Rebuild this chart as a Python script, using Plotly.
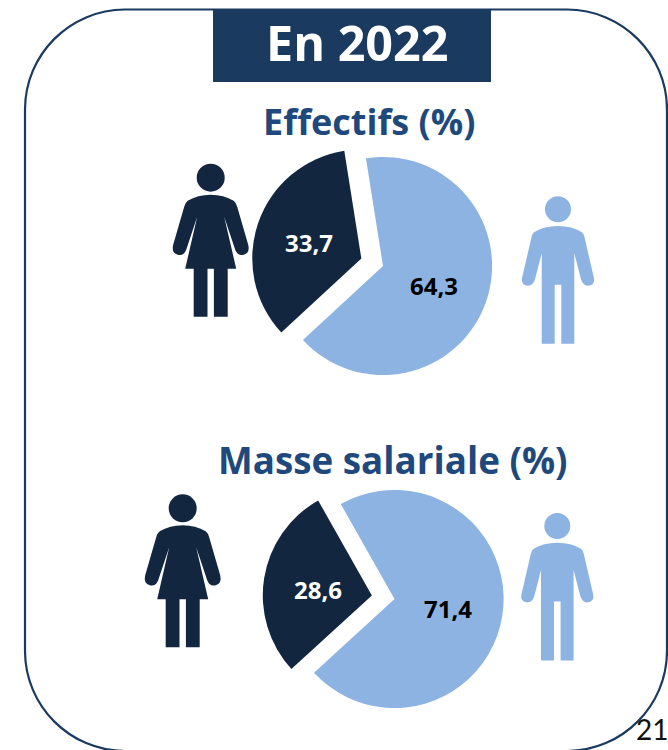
import plotly.graph_objects as go

W, H = 668, 750
categories = ["Hommes", "Femmes"]
effectifs = [64.3, 33.7]
masse_salariale = [71.4, 28.6]
COL_H, COL_F = "#8DB3E2", "#122640"
FONT = "Open Sans"


def px(x):
    return x / W


def py(y):
    return 1 - y / H


def path(cmds):
    out = []
    for c in cmds:
        if isinstance(c, str):
            out.append(c)
        else:
            out.append(f"{px(c[0]):.5f},{py(c[1]):.5f}")
    return " ".join(out)


def poly_mirror(cx, cy, left):
    """Closed path from left-side points (dx, dy) mirrored around cx; 4 numbers mean a Q curve."""
    cmds = []
    for i, seg in enumerate(left):
        if len(seg) == 2:
            cmds += ["M" if i == 0 else "L", (cx + seg[0], cy + seg[1])]
        else:
            cmds += ["Q", (cx + seg[0], cy + seg[1]), (cx + seg[2], cy + seg[3])]
    mirrored = []
    for i in range(1, len(left)):
        seg = left[i]
        start = left[i - 1][-2:]
        if len(seg) == 2:
            mirrored.append(("L", start))
        else:
            mirrored.append(("Q", seg[:2], start))
    end = left[-1][-2:]
    cmds += ["L", (cx - end[0], cy + end[1])]
    for m in reversed(mirrored):
        if m[0] == "L":
            cmds += ["L", (cx - m[1][0], cy + m[1][1])]
        else:
            cmds += ["Q", (cx - m[1][0], cy + m[1][1]), (cx - m[2][0], cy + m[2][1])]
    cmds.append("Z")
    return path(cmds)


def head(cx, cy, r, color):
    return dict(type="circle", xref="paper", yref="paper", x0=px(cx - r), x1=px(cx + r),
                y0=py(cy + r), y1=py(cy - r), fillcolor=color, line_width=0, layer="above")


def woman(cx, cy):
    left = [
        (0, 17), (-13, 17, -23, 23), (-25.5, 25, -26.5, 29), (-37.5, 67),
        (-39.5, 75, -33, 77), (-27, 78.5, -24.5, 72), (-13.5, 39), (-25.5, 91),
        (-17, 91), (-17, 139), (-3.2, 139), (-3.2, 91),
    ]
    skirt = dict(type="path", xref="paper", yref="paper", path=poly_mirror(cx, cy, left),
                 fillcolor=COL_F, line_width=0, layer="above")
    return [head(cx, cy, 14, COL_F), skirt]


def man(cx, cy):
    left = [
        (0, 16.7), (-14, 16.7, -24, 23), (-26, 25, -26.5, 28), (-36, 69),
        (-37, 76, -30, 76.5), (-25, 76.5, -23, 70), (-16.3, 44), (-16.3, 134.5),
        (-3.3, 134.5), (-3.3, 75.5),
    ]
    body = dict(type="path", xref="paper", yref="paper", path=poly_mirror(cx, cy, left),
                fillcolor=COL_H, line_width=0, layer="above")
    return [head(cx, cy, 13, COL_H), body]


def rrect(x0, y0, x1, y1, r):
    k = r * 0.45
    return path([
        "M", (x0 + r, y0), "L", (x1 - r, y0), "C", (x1 - k, y0), (x1, y0 + k), (x1, y0 + r),
        "L", (x1, y1 - r), "C", (x1, y1 - k), (x1 - k, y1), (x1 - r, y1),
        "L", (x0 + r, y1), "C", (x0 + k, y1), (x0, y1 - k), (x0, y1 - r),
        "L", (x0, y0 + r), "C", (x0, y0 + k), (x0 + k, y0), (x0 + r, y0), "Z",
    ])


def dom(cx, cy, half):
    return dict(x=[px(cx - half), px(cx + half)], y=[py(cy + half), py(cy - half)])


def pie(values, cx, cy, rotation):
    return go.Pie(labels=categories, values=values, sort=False, direction="clockwise",
                  rotation=rotation, pull=[0, 0.21], domain=dom(cx, cy, 132),
                  marker=dict(colors=[COL_H, COL_F], line=dict(width=0)),
                  textinfo="none", showlegend=False)


fig = go.Figure([pie(effectifs, 383, 266, -9), pie(masse_salariale, 394.5, 599, -29.5)])

shapes = [
    dict(type="path", xref="paper", yref="paper", path=rrect(25, 9.5, 667, 751, 100),
         line=dict(color="#1B3A60", width=2.2), fillcolor="rgba(0,0,0,0)", layer="below"),
    dict(type="rect", xref="paper", yref="paper", x0=px(213), x1=px(491), y0=py(82), y1=py(9),
         fillcolor="#1A3A5F", line_width=0, layer="above"),
]
shapes += woman(210.7, 177.7) + woman(182.7, 508.3) + man(558, 209.3) + man(557.3, 526)


def label(x, y, text, size, color, family=FONT):
    return dict(xref="paper", yref="paper", x=px(x), y=py(y), text=text, showarrow=False,
                xanchor="center", yanchor="middle",
                font=dict(family=family, size=size, color=color))


def fmt(v):
    return f"{v:.1f}".replace(".", ",")


annotations = [
    label(358, 41.5, "<b>En 2022</b>", 48.5, "#FFFFFF"),
    label(369, 122, "<b>Effectifs (%)</b>", 36, "#1F497D"),
    label(393, 460, "<b>Masse salariale (%)</b>", 36.8, "#1F497D"),
    label(309.3, 242.3, f"<b>{fmt(effectifs[1])}</b>", 24, "#FFFFFF"),
    label(434, 285.7, f"<b>{fmt(effectifs[0])}</b>", 24, "#000000"),
    label(318.3, 589, f"<b>{fmt(masse_salariale[1])}</b>", 24, "#FFFFFF"),
    label(448.3, 608.3, f"<b>{fmt(masse_salariale[0])}</b>", 24, "#000000"),
    label(652, 729, "21", 28, "#111111", "Lato"),
]

fig.update_layout(width=W, height=H, margin=dict(l=0, r=0, t=0, b=0, pad=0),
                  paper_bgcolor="#FFFFFF", plot_bgcolor="#FFFFFF",
                  shapes=shapes, annotations=annotations)
fig.write_html("out.html", config={"displayModeBar": False},
               post_script="document.body.style.margin='0';")
